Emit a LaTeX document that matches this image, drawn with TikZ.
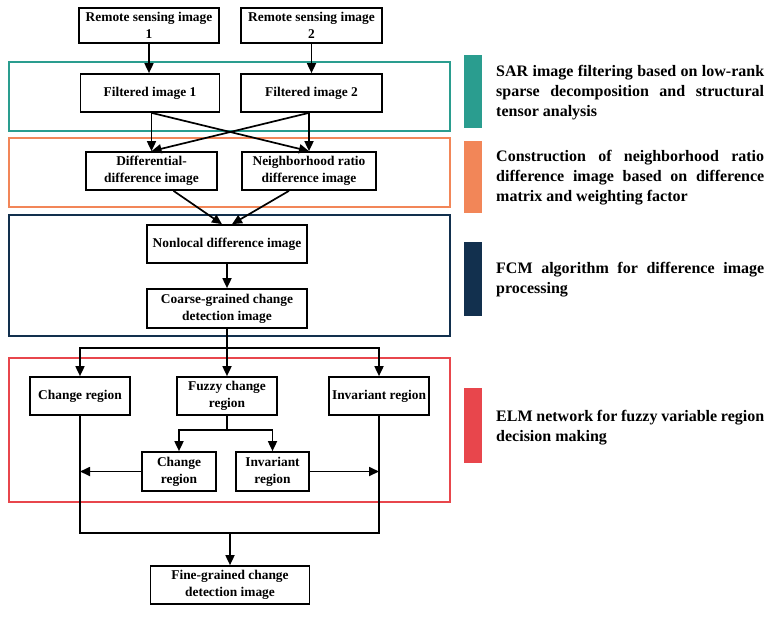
\documentclass[tikz,border=0pt]{standalone}
\usepackage{fontspec}
\setmainfont{Liberation Serif}
\usepackage{tikz}
\usetikzlibrary{arrows.meta,calc}

\hyphenpenalty=10000
\exhyphenpenalty=10000

\definecolor{tealc}{RGB}{42,157,143}
\definecolor{orangec}{RGB}{242,134,88}
\definecolor{navyc}{RGB}{18,48,78}
\definecolor{redc}{RGB}{232,70,76}

\tikzset{
	box/.style={draw,line width=1.7pt,fill=white,align=center,inner sep=2pt,
		font=\fontsize{13.4}{17}\selectfont\bfseries},
	arr/.style={line width=1.7pt,-{Triangle[length=10pt,width=9pt]}},
	ln/.style={line width=1.7pt},
	frame/.style={line width=2pt},
	legend/.style={anchor=west,text width=268pt,align=justify,inner sep=0pt,
		font=\fontsize{16}{20}\selectfont\bfseries}
}

\begin{document}
\begin{tikzpicture}[x=1pt,y=-1pt]

	\useasboundingbox (0,0) rectangle (775,616);

	% stage frames
	\draw[frame,tealc] (9,62) rectangle (450,131);
	\draw[frame,orangec] (9,138) rectangle (450,207);
	\draw[frame,navyc] (9,215) rectangle (450,336);
	\draw[frame,redc] (9,358) rectangle (450,502);

	% boxes
	\node[box,minimum width=140pt,minimum height=35pt] (r1) at (149,25.5) {Remote sensing image\\1};
	\node[box,minimum width=141pt,minimum height=35pt] (r2) at (311.5,25.5) {Remote sensing image\\2};
	\node[box,minimum width=139pt,minimum height=38pt] (f1) at (150,93) {Filtered image 1};
	\node[box,minimum width=141pt,minimum height=38pt] (f2) at (311.5,93) {Filtered image 2};
	\node[box,minimum width=131pt,minimum height=38pt] (d1) at (151.5,171) {Differential-\\difference image};
	\node[box,minimum width=134pt,minimum height=38pt] (n1) at (309,171) {Neighborhood ratio\\difference image};
	\node[box,minimum width=160pt,minimum height=38pt] (nl) at (227,244) {Nonlocal difference image};
	\node[box,minimum width=160pt,minimum height=39pt] (cg) at (227,308.5) {Coarse-grained change\\detection image};
	\node[box,minimum width=100pt,minimum height=38pt] (ch) at (80,396) {Change region};
	\node[box,minimum width=100pt,minimum height=38pt] (fz) at (227,396) {Fuzzy change\\region};
	\node[box,minimum width=100pt,minimum height=38pt] (iv) at (379,396) {Invariant region};
	\node[box,minimum width=74pt,minimum height=39pt] (ch2) at (179,471.5) {Change\\region};
	\node[box,minimum width=73pt,minimum height=39pt] (iv2) at (272.5,471.5) {Invariant\\region};
	\node[box,minimum width=159pt,minimum height=38pt] (fg) at (230,585) {Fine-grained change\\detection image};

	\coordinate (j1) at (227,348);
	\coordinate (j2) at (227,430);
	\coordinate (j3) at (230,533);

	% connectors
	\draw[arr] (r1) -- (r1.south |- f1.north);
	\draw[arr] (r2) -- (r2.south |- f2.north);
	\draw[arr] (f1.south -| d1.north) -- (d1.north);
	\draw[arr] (f2.south -| n1.north) -- (n1.north);
	\draw[arr] (f1.south -| d1.north) -- (n1.north);
	\draw[arr] (f2.south -| n1.north) -- (d1.north);
	\draw[arr] ($(d1.south)+(22,0)$) -- ($(nl.north)+(-5,0)$);
	\draw[arr] ($(n1.south)+(-20,0)$) -- ($(nl.north)+(5,0)$);
	\draw[arr] (nl) -- (cg);
	\draw[arr] (cg) -- (fz);
	\draw[arr] (j1) -| (ch.north);
	\draw[arr] (j1) -| (iv.north);
	\draw[ln] (fz.south) -- (j2);
	\draw[arr] (j2) -| (ch2.north);
	\draw[arr] (j2) -| (iv2.north);
	\draw[arr] (ch2.west) -- (ch2.west -| ch.south);
	\draw[arr] (iv2.east) -- (iv2.east -| iv.south);
	\draw[ln] (ch.south) |- (j3) -| (iv.south);
	\draw[arr] (j3) -- (fg.north);

	% legend
	\fill[tealc] (464,55) rectangle (482,128);
	\fill[orangec] (464,141) rectangle (482,213);
	\fill[navyc] (464,242) rectangle (482,316);
	\fill[redc] (464,388) rectangle (482,463);
	\node[legend] (t1) at (496,92.5) {SAR image filtering based on low-rank sparse decomposition and structural tensor analysis};
	\node[legend] (t2) at (496,178) {Construction of neighborhood ratio difference image based on difference matrix and weighting factor};
	\node[legend] (t3) at (496,279.5) {FCM algorithm for difference image processing};
	\node[legend] (t4) at (496,428) {ELM network for fuzzy variable region decision making};

\end{tikzpicture}
\end{document}
